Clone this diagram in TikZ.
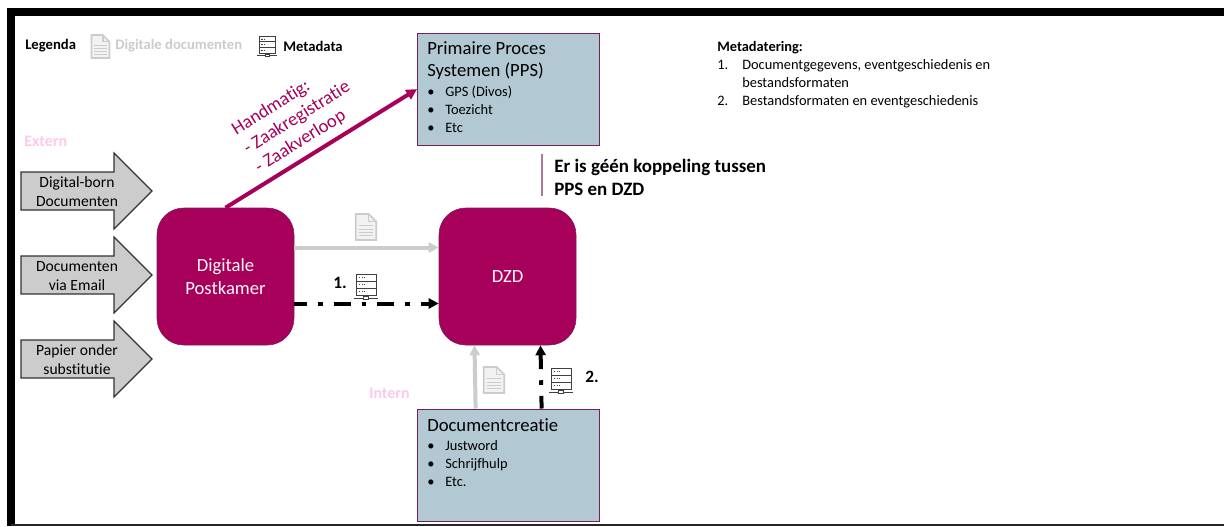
\documentclass[tikz,border=0pt]{standalone}
\usepackage{fontspec}
\setmainfont{Carlito}[Ligatures=NoCommon]
\usepackage{tikz}
\usepackage{xcolor}
\usetikzlibrary{arrows.meta}
\definecolor{wine}{RGB}{166,0,90}
\definecolor{wineline}{RGB}{120,30,90}
\definecolor{slate}{RGB}{178,201,212}
\definecolor{ashgrey}{RGB}{204,204,204}
\definecolor{softpink}{RGB}{255,200,235}
\newcommand{\bul}{\makebox[13.5pt][l]{\textbullet}}
\newcommand{\num}[1]{\makebox[18.75pt][l]{#1}}
\tikzset{
  hub/.style={draw=wineline,fill=wine,rounded corners=20pt,minimum width=102.75pt,minimum height=102.75pt,text=white!90!pink,font=\fontsize{14}{17.25}\selectfont,align=center,inner sep=0},
  sysbox/.style={draw=wineline,fill=slate,line width=0.9pt,minimum width=136.5pt,minimum height=84pt,anchor=north west,inner sep=0},
  inarrow/.style={draw=black!80,fill=ashgrey,line width=0.9pt},
  arrowtext/.style={inner sep=0,align=center,font=\fontsize{11.7}{14.25}\selectfont},
  titletext/.style={anchor=north west,inner sep=0,align=left,font=\fontsize{14}{16.5}\selectfont},
  listtext/.style={anchor=north west,inner sep=0,align=left,font=\fontsize{10.8}{13.5}\selectfont},
  legendtext/.style={anchor=west,inner sep=0,font=\fontsize{11}{13}\selectfont\bfseries},
  pinktext/.style={anchor=west,inner sep=0,text=softpink,font=\fontsize{12}{14}\selectfont\bfseries},
  heavy/.style={line width=3pt,-{Triangle[length=7.5pt,width=7.5pt]}},
  docline/.style={heavy,draw=ashgrey},
  metaline/.style={heavy,draw=black,dash pattern={on 12.75pt off 8.25pt on 3.4pt off 8.4pt},dash phase=3.2pt},
  pics/docicon/.style={code={
    \draw[ashgrey,line width=1.3pt,fill=ashgrey!25] (-9,-12) -- (3,-12) -- (10,-5) -- (10,12) -- (-9,12) -- cycle;
    \draw[ashgrey,line width=1pt] (3,-12) -- (3,-5) -- (10,-5);
    \foreach \yy in {-1,2,5,8} \draw[ashgrey,line width=0.7pt] (-6,\yy) -- (7,\yy);
  }},
  pics/servericon/.style={code={
    \foreach \yy in {-11,-4,3} {\draw[black!75,line width=0.55pt,fill=white] (-10,\yy) rectangle (10,\yy+7);
      \draw[black!75,line width=0.7pt,dash pattern=on 1pt off 1pt] (-7,\yy+3.5) -- (-1,\yy+3.5);}
    \draw[black!75,line width=0.55pt] (0,10) -- (0,12) (-12,13) -- (12,13);
    \draw[black!75,line width=0.55pt,fill=white] (-2.5,11.5) rectangle (2.5,14.5);
  }}
}

\begin{document}
\begin{tikzpicture}[x=0.75pt,y=0.75pt,yscale=-1,xscale=1]
\useasboundingbox (0,0) rectangle (1224,526);
%Frame
\fill[white] (0,0) rectangle (1224,526);
\draw[line width=6pt] (10.7,11.5) -- (1230,11.5) (10.7,8) -- (10.7,526);
\draw[line width=1.2pt,black!85] (10.7,525) -- (1224,525);

%Hubs
\node [hub] (postkamer) at (225.5,276.5) {Digitale\\Postkamer};
\node [hub] (dzd) at (507.5,276.5) {DZD};

%Systems
\node [sysbox] (pps) at (417,32.5) {};
\node [sysbox] (creatie) at (417,408.5) {};
\node [titletext] (ppstitle) at (427,41.5) {Primaire Proces\\Systemen (PPS)};
\node [listtext] (ppslist) at (427,86) {\bul GPS (Divos)\\\bul Toezicht\\\bul Etc};
\node [titletext] (creatietitle) at (427,418) {Documentcreatie};
\node [listtext] (creatielist) at (427,440) {\bul Justword\\\bul Schrijfhulp\\\bul Etc.};

%Incoming arrows
\foreach \nm/\yy/\txt in {born/191/Digital-born\\Documenten,mail/275/Documenten\\via Email,papier/359/Papier onder\\substitutie} {
  \draw [inarrow] (21,\yy-19) -- (114,\yy-19) -- (114,\yy-38) -- (152,\yy) -- (114,\yy+38) -- (114,\yy+19) -- (21,\yy+19) -- cycle;
  \node [arrowtext] (\nm) at (77,\yy+0.7) {\txt};
}

%Connectors
\draw [draw=wine,line width=3pt,-{Triangle[length=8pt,width=8pt]}] (postkamer.north) -- (pps.west);
\draw [docline] ([yshift=-21.75pt]postkamer.east) -- ([yshift=-21.75pt]dzd.west);
\draw [metaline] ([yshift=20.25pt]postkamer.east) -- ([yshift=20.25pt]dzd.west);
\draw [docline] ([xshift=-24.75pt]creatie.north) -- ([xshift=-24.75pt]dzd.south);
\draw [metaline] ([xshift=24.75pt]creatie.north) -- ([xshift=24.75pt]dzd.south);

%Icons
\path (100,46.5) pic [transform shape,scale=0.95] {docicon};
\path (267,45) pic [transform shape,scale=0.8] {servericon};
\path (365.5,227) pic [transform shape,scale=1.08] {docicon};
\path (366,285) pic [transform shape] {servericon};
\path (493.5,380) pic [transform shape,scale=1.08] {docicon};
\path (561,379) pic [transform shape] {servericon};

% Text Node
\node [legendtext] (legenda) at (25,46) {Legenda};
\node [legendtext,text=ashgrey] (digdoc) at (115,46) {Digitale documenten};
\node [legendtext] (metadata) at (283,46) {Metadata};
\node [pinktext] (extern) at (24,141) {Extern};
\node [pinktext] (intern) at (369,393) {Intern};
\node [anchor=west,inner sep=0,font=\fontsize{13}{14}\selectfont\bfseries] (eenlabel) at (333,283) {1.};
\node [anchor=west,inner sep=0,font=\fontsize{13}{14}\selectfont\bfseries] (tweelabel) at (585,377) {2.};
\node [rotate=32,inner sep=0,align=left,text=wine,font=\fontsize{14}{16.5}\selectfont] (handmatig) at (297,118) {Handmatig:\\- Zaakregistratie\\- Zaakverloop};
\node [listtext] (metatekst) at (717,41.5) {\textbf{Metadatering:}\\\num{1.}Documentgegevens, eventgeschiedenis en\\\num{}bestandsformaten\\\num{2.}Bestandsformaten en eventgeschiedenis};
\node [anchor=north west,inner sep=0,align=left,font=\fontsize{14.2}{17.25}\selectfont\bfseries] (geen) at (554,159) {Er is géén koppeling tussen\\PPS en DZD};
\draw [draw=wineline!60,line width=1pt] (geen.north west) ++(-12,-5) coordinate (strooktop) -- (strooktop |- geen.south);
\end{tikzpicture}
\end{document}
